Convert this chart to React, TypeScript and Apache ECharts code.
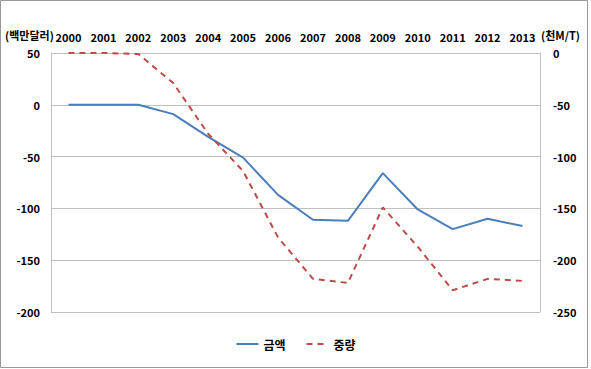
import React, { useEffect, useRef } from "react";
import * as echarts from "echarts";

const years = ["2000","2001","2002","2003","2004","2005","2006","2007","2008","2009","2010","2011","2012","2013"];
const amount = [0, 0, 0, -9, -31, -51, -87, -111, -112, -66, -101, -120, -110, -117];
const weight = [0, 0, -1, -29, -78, -114, -178, -218, -222, -149, -187, -229, -218, -220];
const leftName = "(백만달러)";
const rightName = "(천M/T)";
const seriesNames = ["금액", "중량"];

const FONT = "'Noto Sans CJK KR', 'Noto Sans', sans-serif";

export default function App() {
  const ref = useRef<HTMLDivElement>(null);
  useEffect(() => {
    if (!ref.current) return;
    const chart = echarts.init(ref.current, undefined, { renderer: "svg" });
    const labelStyle = { color: "#000", fontWeight: "bold" as const, fontSize: 11, fontFamily: FONT };
    chart.setOption({
      animation: false,
      backgroundColor: "#fff",
      grid: { left: 51, right: 51, top: 53, bottom: 57 },
      xAxis: {
        type: "category",
        position: "top",
        data: years,
        boundaryGap: true,
        axisLine: { show: true, lineStyle: { color: "#bfbfbf", width: 1 } },
        axisTick: { show: false },
        axisLabel: { ...labelStyle, margin: 11 },
      },
      yAxis: [
        {
          type: "value",
          min: -200,
          max: 50,
          interval: 50,
          axisLine: { show: true, lineStyle: { color: "#bfbfbf" } },
          axisTick: { show: false },
          splitLine: { show: true, lineStyle: { color: "#bfbfbf", width: 1 } },
          axisLabel: { ...labelStyle, margin: 11 },
        },
        {
          type: "value",
          min: -250,
          max: 0,
          interval: 50,
          axisLine: { show: true, lineStyle: { color: "#bfbfbf" } },
          axisTick: { show: false },
          splitLine: { show: false },
          axisLabel: { ...labelStyle, margin: 13 },
        },
      ],
      legend: {
        bottom: 14,
        left: "center",
        itemWidth: 22,
        itemHeight: 10,
        itemGap: 20,
        itemStyle: { opacity: 0 },
        textStyle: { color: "#000", fontWeight: "bold", fontSize: 12, fontFamily: FONT },
        data: seriesNames,
      },
      graphic: [
        {
          type: "rect",
          shape: { x: 0.5, y: 0.5, width: 587, height: 367 },
          style: { fill: "none", stroke: "#999", lineWidth: 1 },
          silent: true,
        },
        {
          type: "text",
          left: 5,
          top: 29,
          style: { text: leftName, fill: "#000", font: `bold 11px ${FONT}` },
        },
        {
          type: "text",
          left: 541,
          top: 29,
          style: { text: rightName, fill: "#000", font: `bold 11px ${FONT}` },
        },
      ],
      series: [
        {
          name: seriesNames[0],
          type: "line",
          yAxisIndex: 0,
          data: amount,
          symbol: "none",
          lineStyle: { color: "#4a7ebb", width: 2 },
          itemStyle: { color: "#4a7ebb" },
        },
        {
          name: seriesNames[1],
          type: "line",
          yAxisIndex: 1,
          data: weight,
          symbol: "none",
          lineStyle: { color: "#be4b48", width: 2, type: [6, 5] },
          itemStyle: { color: "#be4b48" },
        },
      ],
    });
    return () => chart.dispose();
  }, []);
  return <div ref={ref} style={{ position: "fixed", left: 0, top: 0, width: 591, height: 369 }} />;
}
